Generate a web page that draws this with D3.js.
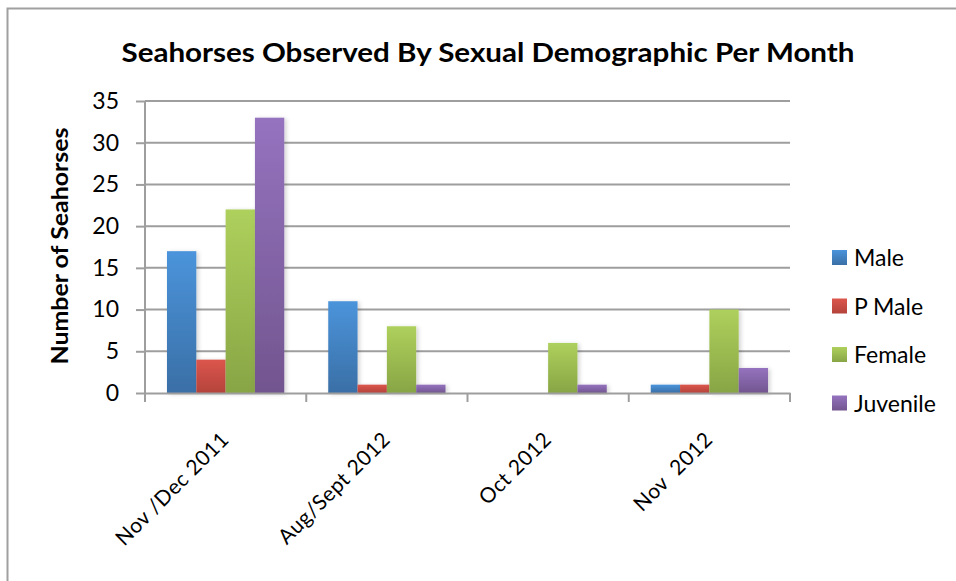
<!DOCTYPE html>
<html>
<head>
<meta charset="utf-8">
<script src="https://cdn.jsdelivr.net/npm/d3@7"></script>
<style>
  body { margin: 0; background: #fff; }
  text { font-family: Lato, "Open Sans", sans-serif; fill: #000; }
</style>
</head>
<body>
<div id="chart"></div>
<script>
// data
const months = ['Nov /Dec 2011', 'Aug/Sept 2012', 'Oct 2012', 'Nov  2012'];
const series = ['Male', 'P Male', 'Female', 'Juvenile'];
const male = [17, 11, 0, 1];
const pMale = [4, 1, 0, 1];
const female = [22, 8, 6, 10];
const juvenile = [33, 1, 1, 3];
const yTicks = [0, 5, 10, 15, 20, 25, 30, 35];

const values = [male, pMale, female, juvenile];
const colors = [
  { top: '#4b94db', bottom: '#3a6fa6' },
  { top: '#dc564d', bottom: '#b4433b' },
  { top: '#aed05c', bottom: '#88a545' },
  { top: '#9573bf', bottom: '#72558f' }
];

const width = 956;
const height = 581;
const plot = { left: 145, right: 790, top: 101, bottom: 393 };

const svg = d3.select('#chart')
  .append('svg')
  .attr('width', width)
  .attr('height', height);

const defs = svg.append('defs');
colors.forEach((c, i) => {
  const grad = defs.append('linearGradient')
    .attr('id', 'grad' + i)
    .attr('x1', 0).attr('y1', 0).attr('x2', 0).attr('y2', 1);
  grad.append('stop').attr('offset', '0%').attr('stop-color', c.top);
  grad.append('stop').attr('offset', '100%').attr('stop-color', c.bottom);
});
defs.append('filter')
  .attr('id', 'shadow')
  .attr('x', '-20%').attr('y', '-20%').attr('width', '160%').attr('height', '140%')
  .append('feDropShadow')
  .attr('dx', 2).attr('dy', 1).attr('stdDeviation', 2)
  .attr('flood-color', '#000').attr('flood-opacity', 0.18);

// outer frame (runs off the right and bottom of the picture)
svg.append('rect')
  .attr('x', 7.5).attr('y', 8.5)
  .attr('width', 1000).attr('height', 1000)
  .attr('fill', 'none')
  .attr('stroke', '#a0a0a0')
  .attr('stroke-width', 2);

// scales
const x0 = d3.scaleBand()
  .domain(months)
  .range([plot.left, plot.right])
  .padding(0);

// Excel gap width 150%
const gap = x0.bandwidth() * 1.5 / (series.length + 1.5);
const x1 = d3.scaleBand()
  .domain(series)
  .range([gap / 2, x0.bandwidth() - gap / 2])
  .padding(0);

const y = d3.scaleLinear()
  .domain([0, 35])
  .range([plot.bottom, plot.top]);

// gridlines
svg.append('g')
  .selectAll('line')
  .data(yTicks.filter(d => d > 0))
  .enter()
  .append('line')
  .attr('x1', plot.left)
  .attr('x2', plot.right)
  .attr('y1', d => y(d))
  .attr('y2', d => y(d))
  .attr('stroke', '#9e9e9e')
  .attr('stroke-width', 2);

// bars
const groups = svg.append('g')
  .selectAll('g')
  .data(months)
  .enter()
  .append('g')
  .attr('transform', d => `translate(${x0(d)},0)`);

groups.selectAll('rect')
  .data((m, mi) => series.map((s, si) => ({ s, si, v: values[si][mi] })))
  .enter()
  .filter(d => d.v > 0)
  .append('rect')
  .attr('x', d => x1(d.s))
  .attr('y', d => y(d.v))
  .attr('width', x1.bandwidth())
  .attr('height', d => y(0) - y(d.v))
  .attr('fill', d => `url(#grad${d.si})`)
  .attr('filter', 'url(#shadow)');

// y axis
const yAxis = svg.append('g')
  .attr('transform', `translate(${plot.left},0)`)
  .call(d3.axisLeft(y).tickValues(yTicks).tickSize(9).tickPadding(17));
yAxis.select('.domain').remove();
yAxis.append('line')
  .attr('x1', 0).attr('x2', 0)
  .attr('y1', plot.top).attr('y2', plot.bottom + 9)
  .attr('stroke', '#9e9e9e').attr('stroke-width', 2);
yAxis.selectAll('.tick line').attr('stroke', '#9e9e9e').attr('stroke-width', 2);
yAxis.selectAll('.tick text')
  .style('font-family', 'Lato, sans-serif')
  .style('font-size', '23px')
  .attr('fill', '#000');

// x axis
const xAxis = svg.append('g')
  .attr('transform', `translate(0,${plot.bottom})`)
  .call(d3.axisBottom(x0).tickValues([]).tickSizeOuter(0));
xAxis.select('.domain')
  .attr('stroke', '#9e9e9e').attr('stroke-width', 2);
xAxis.selectAll('.edge')
  .data(months.map(m => x0(m)).concat([plot.right]))
  .enter()
  .append('line')
  .attr('class', 'edge')
  .attr('x1', d => d).attr('x2', d => d)
  .attr('y1', 0).attr('y2', 9)
  .attr('stroke', '#9e9e9e').attr('stroke-width', 2);

svg.append('g')
  .selectAll('text')
  .data(months)
  .enter()
  .append('text')
  .attr('transform', d => `translate(${x0(d) + x0.bandwidth() / 2 - 6},430) rotate(-45)`)
  .attr('text-anchor', 'end')
  .attr('dy', '0.72em')
  .style('font-size', '21px')
  .style('letter-spacing', '0.5px')
  .style('white-space', 'pre')
  .text(d => d);

// title
svg.append('text')
  .attr('x', 488)
  .attr('y', 62)
  .attr('text-anchor', 'middle')
  .attr('textLength', 733)
  .attr('lengthAdjust', 'spacingAndGlyphs')
  .style('font-size', '27px')
  .style('font-weight', 'bold')
  .text('Seahorses Observed By Sexual Demographic Per Month');

// y label
svg.append('text')
  .attr('transform', 'translate(68,246) rotate(-90)')
  .attr('text-anchor', 'middle')
  .attr('textLength', 237)
  .attr('lengthAdjust', 'spacingAndGlyphs')
  .style('font-size', '23px')
  .style('font-weight', 'bold')
  .text('Number of Seahorses');

// legend
const legend = svg.append('g')
  .attr('transform', 'translate(832,250)');

legend.selectAll('rect')
  .data(series)
  .enter()
  .append('rect')
  .attr('x', 0)
  .attr('y', (d, i) => i * 48.5)
  .attr('width', 15)
  .attr('height', 15)
  .attr('fill', (d, i) => `url(#grad${i})`);

legend.selectAll('text')
  .data(series)
  .enter()
  .append('text')
  .attr('x', 22)
  .attr('y', (d, i) => i * 48.5 + 16)
  .style('font-size', '23px')
  .text(d => d);
</script>
</body>
</html>
